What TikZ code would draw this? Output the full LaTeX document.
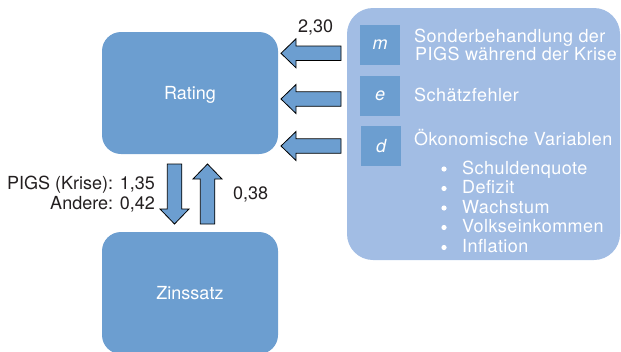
\documentclass[tikz,border=0pt]{standalone}
\usepackage{fontspec}
\setmainfont{TeX Gyre Heros}
\newfontfamily\panelfamily{TeX Gyre Heros}[LetterSpace=2.5]
\usetikzlibrary{calc,positioning}
\usepackage{xcolor}

\definecolor{boxblue}{RGB}{108,158,208}
\definecolor{panelblue}{RGB}{162,189,228}
\definecolor{labelgray}{RGB}{35,31,32}

\newcommand{\txtfont}{\fontsize{18}{21}\selectfont}

\tikzset{
  roundbox/.style={fill=boxblue, rounded corners=19pt, minimum width=176pt,
    minimum height=122pt, text=white, text depth=0pt, font=\txtfont},
  panelbox/.style={fill=panelblue, rounded corners=26pt, minimum width=273pt,
    minimum height=252pt},
  letterbox/.style={fill=boxblue, minimum width=40pt, minimum height=40pt,
    inner sep=0pt, text=white, font=\txtfont\itshape},
  paneltext/.style={text=white, anchor=base west, inner sep=0pt,
    font=\txtfont\panelfamily},
  numlabel/.style={text=labelgray, inner sep=0pt, font=\txtfont},
  fatarrow/.style={draw=black, line width=0.8pt, fill=boxblue, to path={
    ($(\tikztostart)!7.25pt!90:(\tikztotarget)$)
    -- ($(\tikztotarget)!15pt!(\tikztostart)!7.25pt!-90:(\tikztostart)$)
    -- ($(\tikztotarget)!15pt!(\tikztostart)!14.5pt!-90:(\tikztostart)$)
    -- (\tikztotarget)
    -- ($(\tikztotarget)!15pt!(\tikztostart)!14.5pt!90:(\tikztostart)$)
    -- ($(\tikztotarget)!15pt!(\tikztostart)!7.25pt!90:(\tikztostart)$)
    -- ($(\tikztostart)!7.25pt!-90:(\tikztotarget)$)
    -- cycle}}
}

\begin{document}
\begin{tikzpicture}[x=1pt, y=-1pt]
  \useasboundingbox (0,0) rectangle (621,351);

  % Rating and interest rate
  \node[roundbox] (rating) at (190,93) {Rating};
  \node[roundbox] (zins) at (190,293) {Zinssatz};

  % Right panel with the factors
  \node[panelbox] (panel) at (483.5,134) {};
  \node[letterbox] (m) at (380,45) {m};
  \node[letterbox] (e) at (380,95.5) {e};
  \node[letterbox] (d) at (381,146) {d};

  \node[paneltext] (sonder) at (414,42.7) {Sonderbehandlung der};
  \node[paneltext] (pigs) at (415,60) {PIGS während der Krise};
  \node[paneltext] (fehler) at (414,101.7) {Schätzfehler};
  \node[paneltext] (oekon) at (414,145) {Ökonomische Variablen};

  % Bullet list
  \node[paneltext] (schuld) at (462,174) {Schuldenquote};
  \node[paneltext] (defizit) at (462,193.5) {Defizit};
  \node[paneltext] (wachs) at (462,213) {Wachstum};
  \node[paneltext] (volk) at (462,232.5) {Volkseinkommen};
  \node[paneltext] (infl) at (462,252.5) {Inflation};
  \fill[white] ($(schuld.base west)+(-18,-5)$) circle (2.6pt);
  \fill[white] ($(defizit.base west)+(-18,-5)$) circle (2.6pt);
  \fill[white] ($(wachs.base west)+(-18,-5)$) circle (2.6pt);
  \fill[white] ($(volk.base west)+(-18,-5)$) circle (2.6pt);
  \fill[white] ($(infl.base west)+(-18,-5)$) circle (2.6pt);

  % Arrow ends
  \coordinate (ms) at (341,53.3);
  \coordinate (mt) at (281,53.3);
  \coordinate (es) at (341,99);
  \coordinate (et) at (281,99);
  \coordinate (ds) at (341,146);
  \coordinate (dt) at (281,146);
  \coordinate (downs) at (174.5,164);
  \coordinate (downt) at (174.5,224);
  \coordinate (ups) at (207.5,224);
  \coordinate (upt) at (207.5,164);

  % Block arrows
  \draw[fatarrow] (ms) to (mt);
  \draw[fatarrow] (es) to (et);
  \draw[fatarrow] (ds) to (dt);
  \draw[fatarrow] (downs) to (downt);
  \draw[fatarrow] (ups) to (upt);

  % Coefficients
  \node[numlabel, anchor=base west] (k230) at (298,32.3) {2,30};
  \node[numlabel, anchor=base east] (k135) at (155,189) {PIGS (Krise): 1,35};
  \node[numlabel, anchor=base east] (k042) at (155,209) {Andere: 0,42};
  \node[numlabel, anchor=base west] (k038) at (233,199.3) {0,38};
\end{tikzpicture}
\end{document}
